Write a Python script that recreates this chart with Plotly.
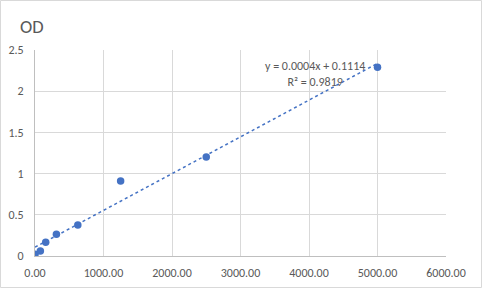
import numpy as np
import plotly.graph_objects as go

concentration = [0, 78.125, 156.25, 312.5, 625, 1250, 2500, 5000]
od = [0.02, 0.06, 0.166, 0.263, 0.376, 0.91, 1.20, 2.29]
x_ticks = [0, 1000, 2000, 3000, 4000, 5000, 6000]
y_ticks = [0, 0.5, 1, 1.5, 2, 2.5]
equation_text = "y = 0.0004x + 0.1114<br>R² = 0.9819"

slope, intercept = np.polyfit(concentration, od, 1)
trend_x = [min(concentration), max(concentration)]
trend_y = [slope * v + intercept for v in trend_x]

W, H = 482, 288
L, R, T, B = 35, 36, 50, 32
pw, ph = W - L - R, H - T - B
FONT = "Carlito, Calibri, Lato, sans-serif"
GRAY = "#595959"
BLUE = "#4472C4"

fig = go.Figure()
fig.add_trace(go.Scatter(x=trend_x, y=trend_y, mode="lines",
                         line=dict(color=BLUE, width=1.5, dash="dot"),
                         hoverinfo="skip", showlegend=False))
fig.add_trace(go.Scatter(x=concentration, y=od, mode="markers",
                         marker=dict(color=BLUE, size=7.5), showlegend=False))

fig.add_annotation(x=4850, y=2.21, xref="x", yref="y", text=equation_text,
                   showarrow=False, xanchor="right", yanchor="middle", align="center",
                   font=dict(family=FONT, size=12, color=GRAY))

fig.add_annotation(x=(18 - L) / pw, y=1 + (T - 26) / ph, xref="paper", yref="paper",
                   text="OD", showarrow=False, xanchor="left", yanchor="middle",
                   font=dict(family=FONT, size=18.5, color=GRAY))

fig.add_shape(type="rect", xref="paper", yref="paper",
              x0=(0.5 - L) / pw, x1=(W - 0.5 - L) / pw,
              y0=-(B - 0.5) / ph, y1=1 + (T - 0.5) / ph,
              line=dict(color="#d9d9d9", width=1), layer="below")

fig.update_layout(
    width=W, height=H,
    margin=dict(l=L, r=R, t=T, b=B, autoexpand=False),
    paper_bgcolor="white", plot_bgcolor="white",
    font=dict(family=FONT, size=12, color=GRAY),
    xaxis=dict(range=[0, 6000], tickvals=x_ticks,
               ticktext=[f"{v:.2f}" for v in x_ticks],
               showgrid=True, gridcolor="#d9d9d9", gridwidth=1,
               showline=True, linecolor="#bfbfbf", linewidth=1,
               zeroline=False, ticks="", ticklabelstandoff=6, automargin=False,
               tickfont=dict(family=FONT, size=12, color=GRAY)),
    yaxis=dict(range=[0, 2.5], tickvals=y_ticks,
               ticktext=[f"{v:g}" for v in y_ticks],
               showgrid=True, gridcolor="#d9d9d9", gridwidth=1,
               showline=True, linecolor="#bfbfbf", linewidth=1,
               zeroline=False, ticks="", ticklabelstandoff=8, automargin=False,
               tickfont=dict(family=FONT, size=12, color=GRAY)),
)

fig.write_html("out.html")
